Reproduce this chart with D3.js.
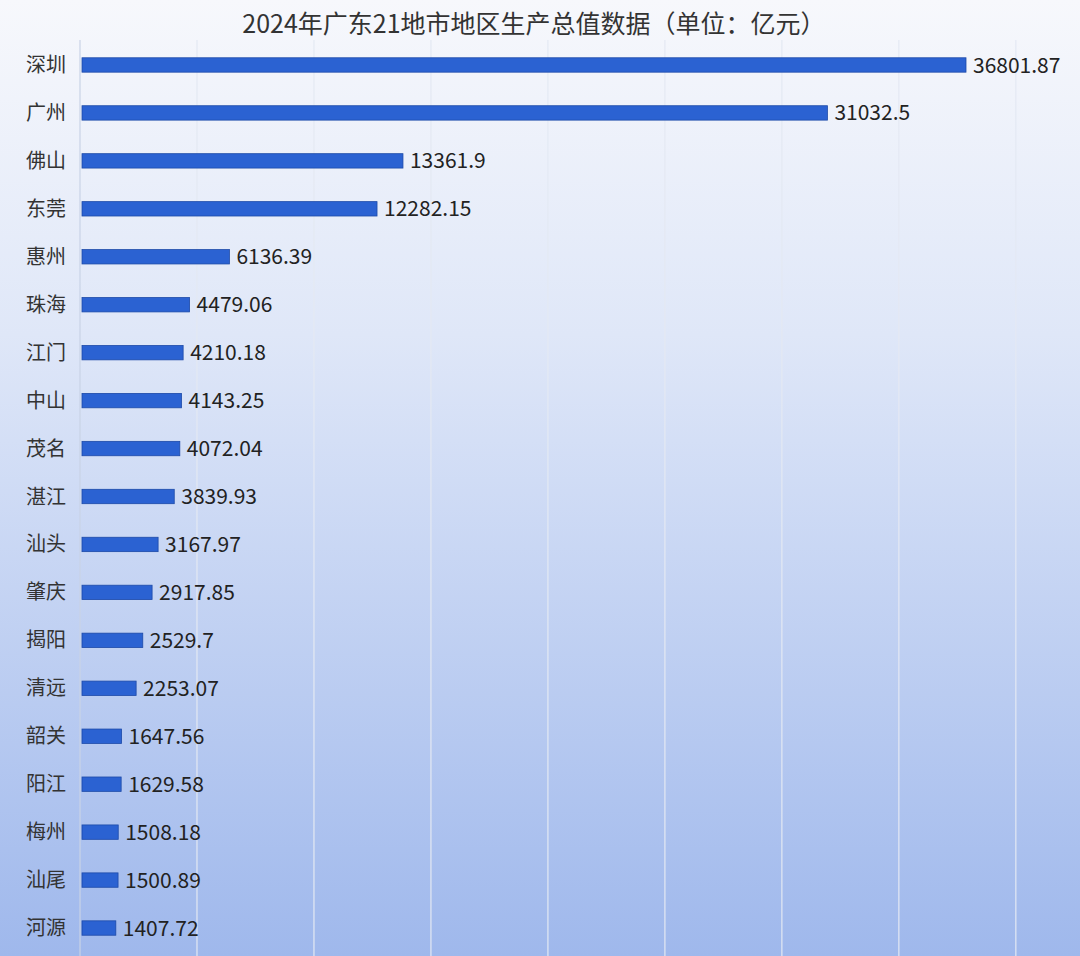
<!DOCTYPE html>
<html>
<head>
<meta charset="UTF-8">
<title>2024年广东21地市地区生产总值数据</title>
<style>
    body { margin: 0; }
    text { font-family: "Noto Sans CJK SC", "Noto Sans", sans-serif; }
</style>
</head>
<body>
<script src="https://cdn.jsdelivr.net/npm/d3@7"></script>
<script>
    var cities = ["深圳","广州","佛山","东莞","惠州","珠海","江门","中山","茂名","湛江","汕头","肇庆","揭阳","清远","韶关","阳江","梅州","汕尾","河源"];
    var gdp = [36801.87,31032.5,13361.9,12282.15,6136.39,4479.06,4210.18,4143.25,4072.04,3839.93,3167.97,2917.85,2529.7,2253.07,1647.56,1629.58,1508.18,1500.89,1407.72];
    var gridValues = [0,4870,9740,14610,19480,24350,29220,34090,38960];
    var title = "2024年广东21地市地区生产总值数据（单位：亿元）";

    var width = 1080, height = 956;
    var data = cities.map(function (c, i) { return {city: c, value: gdp[i]}; });

    var svg = d3.select("body").append("svg")
        .attr("width", width).attr("height", height);

    var defs = svg.append("defs");
    var bg = defs.append("linearGradient").attr("id", "bg")
        .attr("x1", 0).attr("y1", 0).attr("x2", 0).attr("y2", 1);
    bg.append("stop").attr("offset", "0%").attr("stop-color", "#f7f8fc");
    bg.append("stop").attr("offset", "35%").attr("stop-color", "#dfe7f8");
    bg.append("stop").attr("offset", "100%").attr("stop-color", "#9fb8ec");
    svg.append("rect").attr("width", width).attr("height", height).attr("fill", "url(#bg)");

    var x = d3.scaleLinear().domain([0, 36801.87]).range([82, 966]);
    var y = d3.scaleBand().domain(cities).range([41, 952]).paddingInner(0.7).paddingOuter(0.35);

    // grid
    svg.append("g").selectAll("line")
        .data(gridValues).enter().append("line")
        .attr("x1", function (d) { return x(d) - 2; })
        .attr("x2", function (d) { return x(d) - 2; })
        .attr("y1", 40).attr("y2", height)
        .attr("stroke", function (d, i) { return i === 0 ? "#c9d3e6" : "#e4e9f3"; })
        .attr("stroke-width", 1.2);

    svg.append("text")
        .attr("x", 534).attr("y", 33)
        .attr("text-anchor", "middle")
        .attr("font-size", 25).attr("fill", "#333")
        .text(title);

    svg.append("g").selectAll("rect")
        .data(data).enter().append("rect")
        .attr("x", x(0))
        .attr("y", function (d) { return y(d.city); })
        .attr("width", function (d) { return x(d.value) - x(0); })
        .attr("height", y.bandwidth())
        .attr("fill", "#2b62d2")
        .attr("stroke", "#1d4aa8")
        .attr("stroke-width", 0.8);

    svg.append("g").selectAll("text")
        .data(data).enter().append("text")
        .attr("x", 66)
        .attr("y", function (d) { return y(d.city) + y.bandwidth() / 2; })
        .attr("dy", "0.35em")
        .attr("text-anchor", "end")
        .attr("font-size", 20).attr("fill", "#333")
        .text(function (d) { return d.city; });

    svg.append("g").selectAll("text")
        .data(data).enter().append("text")
        .attr("x", function (d) { return x(d.value) + 7; })
        .attr("y", function (d) { return y(d.city) + y.bandwidth() / 2; })
        .attr("dy", "0.36em")
        .attr("font-size", 21).attr("fill", "#222")
        .text(function (d) { return d.value; });
</script>
</body>
</html>
